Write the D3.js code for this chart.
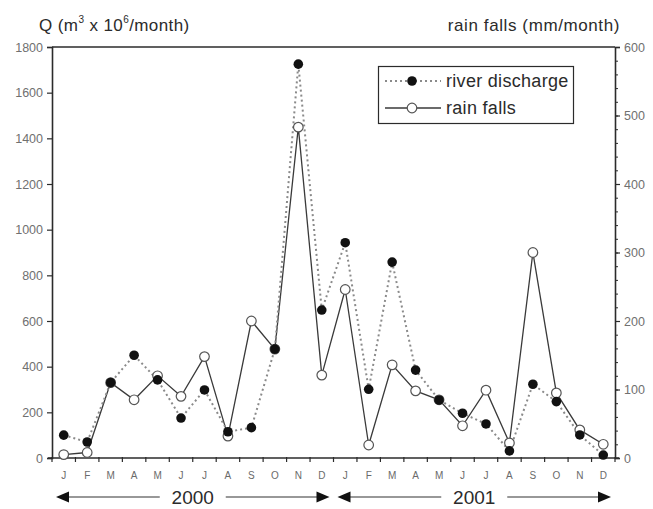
<!DOCTYPE html>
<html>
<head>
<meta charset="utf-8">
<script src="https://cdn.jsdelivr.net/npm/d3@7/dist/d3.min.js"></script>
<style>
  html, body { margin: 0; padding: 0; background: #fff; }
  svg { display: block; font-family: "Liberation Sans", Arial, sans-serif; }
</style>
</head>
<body>
<svg id="chart" width="653" height="509"></svg>
<script>
// Monthly labels for two hydrological years
const months = ["J","F","M","A","M","J","J","A","S","O","N","D",
                "J","F","M","A","M","J","J","A","S","O","N","D"];
const years = ["2000", "2001"];

// River discharge, Q (m3 x 10^6 / month)
const discharge = [100, 70, 330, 450, 342, 175, 298, 115, 133, 477, 1725, 648,
                   943, 301, 858, 385, 254, 196, 149, 31, 323, 247, 101, 13];

// Rain falls (mm / month)
const rain = [5, 8, 110, 85, 120, 90, 148, 32, 200, 159, 483, 121,
              246, 19, 136, 98, 85, 47, 99, 22, 300, 95, 41, 20];

const leftTicks = [0, 200, 400, 600, 800, 1000, 1200, 1400, 1600, 1800];
const rightTicks = [0, 100, 200, 300, 400, 500, 600];

const svg = d3.select("#chart");
const L = 52, R = 615, T = 47, B = 458;

const x = d3.scaleBand().domain(d3.range(months.length)).range([L, R]);
const xc = i => x(i) + x.bandwidth() / 2;
const yL = d3.scaleLinear().domain([0, 1800]).range([B, T]);
const yR = d3.scaleLinear().domain([0, 600]).range([B, T]);

const ink = "#2b2b2b";
const labelInk = "#707070";

// Frame: top border, left and right axes, bottom axis
svg.append("line").attr("x1", L).attr("x2", R).attr("y1", T).attr("y2", T)
  .attr("stroke", ink).attr("stroke-width", 1.6);

// Left axis
const gL = svg.append("g").attr("transform", `translate(${L},0)`)
  .call(d3.axisLeft(yL).tickValues(leftTicks).tickSize(5).tickPadding(4).tickFormat(d3.format("d")));
gL.select(".domain").attr("stroke", ink).attr("stroke-width", 1.6);
gL.selectAll(".tick line").attr("stroke", ink).attr("stroke-width", 1.2);
gL.selectAll(".tick text").attr("fill", labelInk).attr("font-size", 12.5)
  .attr("font-family", "Liberation Sans, Arial, sans-serif");

// Right axis: minor ticks every 20 mm, labelled every 100 mm
const gRm = svg.append("g").attr("transform", `translate(${R},0)`)
  .call(d3.axisRight(yR).tickValues(d3.range(0, 601, 20)).tickSize(3).tickFormat(""));
gRm.select(".domain").remove();
gRm.selectAll(".tick line").attr("stroke", ink).attr("stroke-width", 1);
const gR = svg.append("g").attr("transform", `translate(${R},0)`)
  .call(d3.axisRight(yR).tickValues(rightTicks).tickSize(5).tickPadding(4).tickFormat(d3.format("d")));
gR.select(".domain").attr("stroke", ink).attr("stroke-width", 1.6);
gR.selectAll(".tick line").attr("stroke", ink).attr("stroke-width", 1.2);
gR.selectAll(".tick text").attr("fill", labelInk).attr("font-size", 12.5)
  .attr("font-family", "Liberation Sans, Arial, sans-serif");

// Bottom axis: ticks at month boundaries, month letters centred in each band
svg.append("line").attr("x1", L - 4).attr("x2", R + 4).attr("y1", B).attr("y2", B)
  .attr("stroke", ink).attr("stroke-width", 1.6);
const bounds = d3.range(months.length + 1).map(i => i < months.length ? x(i) : x(i - 1) + x.bandwidth());
svg.append("g").selectAll("line").data(bounds).join("line")
  .attr("x1", d => d).attr("x2", d => d).attr("y1", B - 1).attr("y2", B + 4)
  .attr("stroke", ink).attr("stroke-width", 1.2);
svg.append("g").selectAll("text").data(months).join("text")
  .attr("x", (d, i) => xc(i)).attr("y", 479)
  .attr("text-anchor", "middle").attr("font-size", 10).attr("fill", "#6a6a6a")
  .text(d => d);

// Axis titles
const tq = svg.append("text").attr("x", 39).attr("y", 31).attr("font-size", 17)
  .attr("letter-spacing", 0.4).attr("fill", ink);
tq.append("tspan").text("Q (m");
tq.append("tspan").attr("font-size", 10).attr("dy", -8).text("3");
tq.append("tspan").attr("dy", 8).text(" x 10");
tq.append("tspan").attr("font-size", 10).attr("dy", -8).text("6");
tq.append("tspan").attr("dy", 8).text("/month)");
svg.append("text").attr("x", 620).attr("y", 31).attr("text-anchor", "end")
  .attr("font-size", 17).attr("letter-spacing", 0.6).attr("fill", ink).text("rain falls (mm/month)");

// Rain falls: solid line with open circles (right axis)
const lineR = d3.line().x((d, i) => xc(i)).y(d => yR(d));
svg.append("path").datum(rain).attr("d", lineR)
  .attr("fill", "none").attr("stroke", "#3a3a3a").attr("stroke-width", 1.3);

// River discharge: dotted line with filled dots (left axis)
const lineQ = d3.line().x((d, i) => xc(i)).y(d => yL(d));
svg.append("path").datum(discharge).attr("d", lineQ)
  .attr("fill", "none").attr("stroke", "#8a8a8a").attr("stroke-width", 2)
  .attr("stroke-dasharray", "2,3");

svg.append("g").selectAll("circle").data(rain).join("circle")
  .attr("cx", (d, i) => xc(i)).attr("cy", d => yR(d)).attr("r", 4.8)
  .attr("fill", "#fff").attr("stroke", "#555").attr("stroke-width", 1.2);
svg.append("g").selectAll("circle").data(discharge).join("circle")
  .attr("cx", (d, i) => xc(i)).attr("cy", d => yL(d)).attr("r", 4.8)
  .attr("fill", "#111");

// Legend
const lg = svg.append("g");
lg.append("rect").attr("x", 378.5).attr("y", 66.5).attr("width", 195).attr("height", 57)
  .attr("fill", "#fff").attr("stroke", ink).attr("stroke-width", 1.2);
lg.append("line").attr("x1", 385).attr("x2", 441).attr("y1", 81).attr("y2", 81)
  .attr("stroke", "#8a8a8a").attr("stroke-width", 2).attr("stroke-dasharray", "2,3");
lg.append("circle").attr("cx", 412).attr("cy", 81).attr("r", 4.8).attr("fill", "#111");
lg.append("text").attr("x", 446).attr("y", 87).attr("font-size", 18).attr("letter-spacing", 0.3)
  .attr("fill", ink).text("river discharge");
lg.append("line").attr("x1", 385).attr("x2", 441).attr("y1", 108).attr("y2", 108)
  .attr("stroke", "#3a3a3a").attr("stroke-width", 1.3);
lg.append("circle").attr("cx", 412).attr("cy", 108).attr("r", 4.8)
  .attr("fill", "#fff").attr("stroke", "#555").attr("stroke-width", 1.2);
lg.append("text").attr("x", 446).attr("y", 114).attr("font-size", 18).attr("letter-spacing", 0.3)
  .attr("fill", ink).text("rain falls");

// Year spans with double-headed arrows under the month labels
const ay = 497;
function arrowHead(g, tipX, dir) {
  g.append("path")
    .attr("d", `M${tipX},${ay} L${tipX + dir * 13},${ay - 5.5} L${tipX + dir * 13},${ay + 5.5} Z`)
    .attr("fill", "#111");
}
years.forEach((yr, k) => {
  const first = k * 12, last = k * 12 + 11;
  const x0 = x(first) + 4, x1 = x(last) + x.bandwidth() - 4;
  const mid = (x0 + x1) / 2;
  const g = svg.append("g");
  g.append("line").attr("x1", x0 + 10).attr("x2", mid - 33).attr("y1", ay).attr("y2", ay)
    .attr("stroke", "#333").attr("stroke-width", 1.1);
  g.append("line").attr("x1", mid + 33).attr("x2", x1 - 10).attr("y1", ay).attr("y2", ay)
    .attr("stroke", "#333").attr("stroke-width", 1.1);
  arrowHead(g, x0, 1);
  arrowHead(g, x1, -1);
  g.append("text").attr("x", mid).attr("y", ay + 7).attr("text-anchor", "middle")
    .attr("font-size", 19).attr("fill", ink).text(yr);
});
</script>
</body>
</html>
